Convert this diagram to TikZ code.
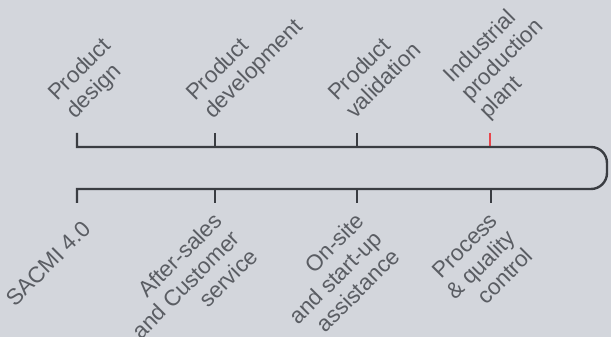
\documentclass[tikz,border=0pt]{standalone}
\usepackage{fontspec}
\setmainfont{Liberation Sans}
\usetikzlibrary{calc}
\definecolor{bg}{HTML}{D3D6DC}
\definecolor{ln}{HTML}{3A3D42}
\definecolor{tx}{HTML}{5A5D63}
\definecolor{rd}{HTML}{E8454C}
\begin{document}
\begin{tikzpicture}[x=1pt,y=1pt,
  mainline/.style={draw=ln,line width=2.4pt},
  tickline/.style={draw=ln,line width=2pt},
  toplab/.style={rotate=45,anchor=south west,align=left,inner sep=0pt,text depth=0pt,text=tx,font=\fontsize{22.5}{25}\selectfont},
  botlab/.style={rotate=45,anchor=north east,align=right,inner sep=0pt,text=tx,font=\fontsize{22.5}{25}\selectfont}]
\fill[bg] (0,0) rectangle (611,337);
\useasboundingbox (0,0) rectangle (611,337);
% line geometry
\coordinate (L1) at (77,190);
\coordinate (L2) at (77,148);
\coordinate (T1) at (77,204);
\coordinate (S1) at (77,134);
\coordinate (T2) at (215,204); \coordinate (B2) at (215,190);
\coordinate (T3) at (357,204); \coordinate (B3) at (357,190);
\coordinate (T4) at (490,204); \coordinate (B4) at (490,190);
\coordinate (S2) at (215,134); \coordinate (C2) at (215,148);
\coordinate (S3) at (357,134); \coordinate (C3) at (357,148);
\coordinate (S4) at (491,134); \coordinate (C4) at (491,148);
\draw[tickline] (T2) -- (B2);
\draw[tickline] (T3) -- (B3);
\draw[draw=rd,line width=2pt] (T4) -- (B4);
\draw[tickline] (S2) -- (C2);
\draw[tickline] (S3) -- (C3);
\draw[tickline] (S4) -- (C4);
\draw[mainline] (T1) -- (L1) -- (591,190) arc[start angle=90,end angle=0,radius=16]
  -- (607,164) arc[start angle=0,end angle=-90,radius=16] -- (L2) -- (S1);
% top labels
\node[toplab] (p1) at ($(T1)+(-2,13.4)$) {Product\\design};
\node[toplab] (p2) at ($(T2)+(-2,13.4)$) {Product\\development};
\node[toplab] (p3) at ($(T3)+(-2,13.4)$) {Product\\validation};
\node[toplab] (p4) at ($(T4)+(-2,13.4)$) {Industrial\\production\\plant};
% bottom labels
\node[botlab] (q1) at ($(S1)+(4,-16)$) {SACMI 4.0};
\node[botlab] (q2) at ($(S2)+(-3,-8)$) {After-sales\\and Customer\\service};
\node[botlab] (q3) at ($(S3)+(-3,-8)$) {On-site\\and start-up\\assistance};
\node[botlab] (q4) at ($(S4)+(-3,-8)$) {Process\\\& quality\\control};
\end{tikzpicture}
\end{document}
